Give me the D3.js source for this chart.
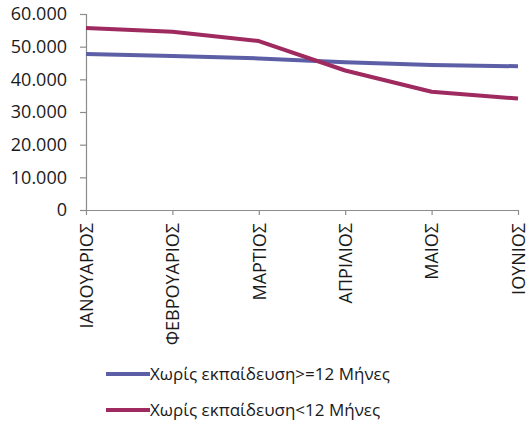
<!DOCTYPE html>
<html>
<head>
<meta charset="utf-8">
<script src="https://cdn.jsdelivr.net/npm/d3@7"></script>
<style>
  body { margin: 0; background: #fff; }
  svg { display: block; font-family: "Open Sans", sans-serif; }
</style>
</head>
<body>
<div id="graph"></div>
<script>
// months and the two series (number of people)
const months = ["ΙΑΝΟΥΑΡΙΟΣ", "ΦΕΒΡΟΥΑΡΙΟΣ", "ΜΑΡΤΙΟΣ", "ΑΠΡΙΛΙΟΣ", "ΜΑΙΟΣ", "ΙΟΥΝΙΟΣ"];
const longTerm = [47750, 47150, 46400, 45200, 44400, 44000];
const shortTerm = [55700, 54600, 51700, 42700, 36200, 34100];
const seriesNames = ["Χωρίς εκπαίδευση>=12 Μήνες", "Χωρίς εκπαίδευση<12 Μήνες"];
const yTicks = [0, 10000, 20000, 30000, 40000, 50000, 60000];

const width = 529;
const height = 426;
const colors = ["#5d5fa6", "#9e2a5f"];
const axisColor = "#8c8c8c";

const greek = d3.formatLocale({ decimal: ",", thousands: ".", grouping: [3], currency: ["", "€"] });
const fmt = greek.format(",d");

const svg = d3.select("#graph")
              .append("svg")
              .attr("width", width)
              .attr("height", height);

const xScale = d3.scalePoint()
                 .domain(months)
                 .range([86, 518]);

const yScale = d3.scaleLinear()
                 .domain([0, 60000])
                 .range([210, 14]);

const yAxis = d3.axisLeft(yScale)
                .tickValues(yTicks)
                .tickFormat(fmt)
                .tickSize(6)
                .tickPadding(13);

const xAxis = d3.axisBottom(xScale)
                .tickSize(5)
                .tickSizeOuter(0);

const gy = svg.append("g")
              .attr("transform", "translate(86,0)")
              .call(yAxis);

const gx = svg.append("g")
              .attr("transform", "translate(0,210)")
              .call(xAxis);

[gx, gy].forEach(g => {
  g.selectAll("path, line").attr("stroke", axisColor).attr("stroke-width", 1.2);
  g.selectAll("text")
   .attr("fill", "#1a1a1a")
   .style("font-size", "18px")
   .style("font-family", "'Open Sans', sans-serif");
});

gx.selectAll("text")
  .attr("transform", "rotate(-90)")
  .attr("text-anchor", "end")
  .attr("x", -13)
  .attr("y", 0)
  .attr("dy", "0.35em");

const line = d3.line()
               .x((d, i) => xScale(months[i]))
               .y(d => yScale(d));

[longTerm, shortTerm].forEach((s, k) => {
  svg.append("path")
     .datum(s)
     .attr("d", line)
     .attr("fill", "none")
     .attr("stroke", colors[k])
     .attr("stroke-width", 4)
     .attr("stroke-linejoin", "round");
});

// legend
const legend = svg.append("g");
seriesNames.forEach((name, k) => {
  const y = 374 + k * 36;
  legend.append("line")
        .attr("x1", 106)
        .attr("x2", 150)
        .attr("y1", y)
        .attr("y2", y)
        .attr("stroke", colors[k])
        .attr("stroke-width", 4);
  legend.append("text")
        .attr("x", 150)
        .attr("y", y)
        .attr("dy", "0.35em")
        .attr("fill", "#1a1a1a")
        .style("font-size", "17px")
        .text(name);
});
</script>
</body>
</html>
